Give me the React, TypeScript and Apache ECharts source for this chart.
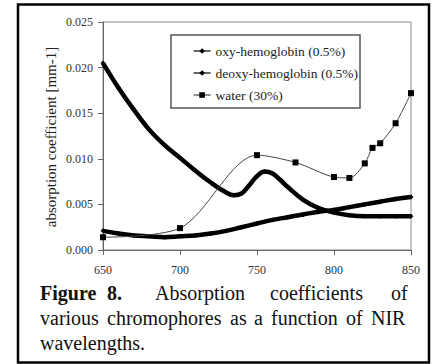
import React, { useEffect, useRef } from "react";
import * as echarts from "echarts";

// Wavelength grid (nm) for the oxy-hemoglobin spectrum
const oxyWavelengths = [650, 660, 670, 680, 690, 700, 710, 720, 730, 740, 750, 760, 770, 780, 790, 800, 810, 820, 830, 840, 850];
// Absorption coefficients [mm-1]
const oxyHb = [0.0021, 0.0018, 0.0016, 0.0015, 0.0014, 0.0015, 0.0016, 0.0018, 0.0021, 0.0025, 0.0029, 0.0033, 0.0036, 0.0039, 0.0042, 0.0044, 0.0047, 0.0050, 0.0053, 0.0056, 0.0058];

const deoxyWavelengths = [650, 660, 670, 680, 690, 700, 710, 720, 730, 735, 740, 745, 750, 755, 760, 765, 770, 780, 790, 800, 810, 820, 830, 840, 850];
const deoxyHb = [0.0205, 0.0178, 0.0154, 0.0132, 0.0115, 0.0101, 0.0087, 0.0074, 0.0063, 0.0060, 0.0062, 0.0071, 0.0081, 0.0086, 0.0084, 0.0077, 0.0069, 0.0055, 0.0046, 0.0041, 0.0038, 0.0037, 0.0037, 0.0037, 0.0037];

const waterWavelengths = [650, 700, 750, 775, 800, 810, 820, 825, 830, 840, 850];
const water = [0.0014, 0.0024, 0.0104, 0.0096, 0.0080, 0.0079, 0.0095, 0.0112, 0.0117, 0.0139, 0.0172];

const seriesNames = ["oxy-hemoglobin (0.5%)", "deoxy-hemoglobin (0.5%)", "water (30%)"];
const yAxisTitle = "absorption coefficient [mm-1]";

const captionLine1 = ["Figure", "8.", "Absorption", "coefficients", "of"];
const captionLine2 = ["various", "chromophores", "as", "a", "function", "of", "NIR"];
const captionLine3 = ["wavelengths."];

const SERIF = "Liberation Serif";

const zip = (xs: number[], ys: number[]) => xs.map((x, i) => [x, ys[i]]);

export default function App() {
  const ref = useRef<HTMLDivElement>(null);

  useEffect(() => {
    if (!ref.current) return;
    const chart = echarts.init(ref.current, null, { renderer: "svg" });

    // justified caption: word x positions per line
    const line1X = [40, 107, 155, 270, 391];
    const line2X = [40, 107, 230, 254, 271, 346, 371];
    const line3X = [40];
    const captionText = (words: string[], xs: number[], baseline: number, boldCount: number) =>
      words.map((w, i) => ({
        type: "text",
        x: xs[i],
        y: baseline,
        z: 20,
        style: {
          text: w,
          fill: "#111",
          fontFamily: SERIF,
          fontSize: 20,
          fontWeight: i < boldCount ? "bold" : "normal",
          align: "left",
          verticalAlign: "bottom",
        },
      }));

    const axisColor = "#666";

    chart.setOption({
      animation: false,
      backgroundColor: "#fff",
      textStyle: { fontFamily: SERIF },
      grid: { left: 103, top: 22, width: 308, height: 228, show: true, borderColor: "#888", borderWidth: 1 },
      xAxis: {
        type: "value",
        min: 650,
        max: 850,
        interval: 50,
        axisLine: { show: true, onZero: false, lineStyle: { color: axisColor, width: 1 } },
        axisTick: { show: true, inside: false, length: 5, lineStyle: { color: axisColor } },
        axisLabel: { margin: 14, fontSize: 12, color: "#333", fontFamily: SERIF },
        splitLine: { show: false },
      },
      yAxis: {
        type: "value",
        min: 0,
        max: 0.025,
        interval: 0.005,
        axisLine: { show: true, lineStyle: { color: axisColor, width: 1 } },
        axisTick: { show: true, inside: false, length: 5, lineStyle: { color: axisColor } },
        axisLabel: {
          margin: 10,
          fontSize: 12,
          color: "#333",
          fontFamily: SERIF,
          formatter: (v: number) => v.toFixed(3),
        },
        splitLine: { show: false },
      },
      legend: {
        orient: "vertical",
        left: 188,
        top: 39,
        itemWidth: 17,
        itemHeight: 7,
        itemGap: 8,
        z: 10,
        data: seriesNames,
        textStyle: { fontFamily: SERIF, fontSize: 13.5, color: "#222" },
        lineStyle: { width: 1.2 },
      },
      series: [
        {
          name: seriesNames[0],
          type: "line",
          data: zip(oxyWavelengths, oxyHb),
          smooth: 0.4,
          symbol: "diamond",
          symbolSize: 5,
          lineStyle: { color: "#000", width: 4.5 },
          itemStyle: { color: "#000" },
        },
        {
          name: seriesNames[1],
          type: "line",
          data: zip(deoxyWavelengths, deoxyHb),
          smooth: 0.4,
          symbol: "diamond",
          symbolSize: 5,
          lineStyle: { color: "#000", width: 4.5 },
          itemStyle: { color: "#000" },
        },
        {
          name: seriesNames[2],
          type: "line",
          data: zip(waterWavelengths, water),
          smooth: 0.3,
          symbol: "rect",
          symbolSize: 6,
          lineStyle: { color: "#444", width: 1 },
          itemStyle: { color: "#000" },
          z: 5,
        },
      ],
      graphic: [
        {
          type: "rect",
          shape: { x: 18, y: 4.5, width: 411, height: 358 },
          style: { fill: "none", stroke: "#000", lineWidth: 2.5 },
          z: 30,
        },
        {
          type: "rect",
          shape: { x: 171, y: 35, width: 189, height: 73 },
          style: { fill: "#fff", stroke: "#555", lineWidth: 1.5 },
          z: 1,
        },
        {
          type: "text",
          x: 51,
          y: 137,
          rotation: Math.PI / 2,
          z: 20,
          style: {
            text: yAxisTitle,
            fill: "#222",
            fontFamily: SERIF,
            fontSize: 15,
            align: "center",
            verticalAlign: "middle",
          },
        },
        ...captionText(captionLine1, line1X, 303, 2),
        ...captionText(captionLine2, line2X, 328, 0),
        ...captionText(captionLine3, line3X, 353, 0),
      ],
    });

    return () => chart.dispose();
  }, []);

  return (
    <div
      ref={ref}
      style={{ position: "fixed", left: 0, top: 0, width: 444, height: 364, background: "#fff" }}
    />
  );
}
